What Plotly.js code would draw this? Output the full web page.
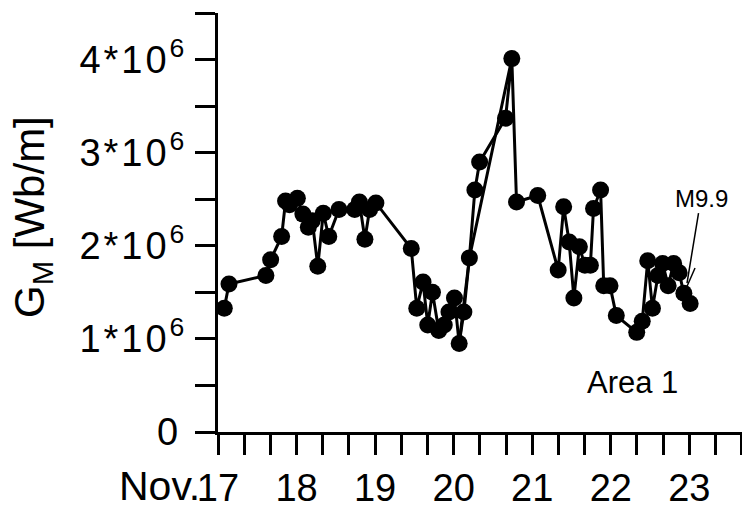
<!DOCTYPE html>
<html>
<head>
<meta charset="utf-8">
<script src="https://cdn.plot.ly/plotly-3.0.1.min.js"></script>
<style>
  html, body { margin: 0; padding: 0; background: #fff; }
  #chart { width: 742px; height: 508px; }
  /* the y labels are set a little wider, like the original typeface */
  #chart .ytick text { letter-spacing: 3px; }
</style>
</head>
<body>
<div id="chart"></div>
<script>
// Time in days of November (fractional), Area 1
const day = [
  17.08, 17.14, 17.61, 17.67, 17.81, 17.86, 17.91, 18.01, 18.08, 18.15,
  18.20, 18.27, 18.34, 18.41, 18.54, 18.74, 18.80, 18.87, 18.93, 19.01,
  19.46, 19.53, 19.61, 19.67, 19.73, 19.81, 19.88, 19.94, 20.01, 20.07,
  20.13, 20.20, 20.27, 20.33, 20.66, 20.74, 20.80, 21.07, 21.33, 21.40,
  21.47, 21.53, 21.60, 21.67, 21.74, 21.78, 21.87, 21.91, 21.99, 22.07,
  22.33, 22.40, 22.47, 22.53, 22.60, 22.66, 22.73, 22.80, 22.87, 22.93,
  23.01
];

// G_M in Wb/m
const gm = [
  1.33e6, 1.59e6, 1.68e6, 1.85e6, 2.10e6, 2.48e6, 2.44e6, 2.51e6, 2.34e6, 2.20e6,
  2.27e6, 1.78e6, 2.35e6, 2.10e6, 2.39e6, 2.39e6, 2.47e6, 2.07e6, 2.39e6, 2.46e6,
  1.97e6, 1.33e6, 1.61e6, 1.15e6, 1.50e6, 1.09e6, 1.15e6, 1.29e6, 1.44e6, 0.95e6,
  1.29e6, 1.87e6, 2.60e6, 2.90e6, 3.37e6, 4.01e6, 2.47e6, 2.54e6, 1.74e6, 2.42e6,
  2.04e6, 1.44e6, 1.99e6, 1.79e6, 1.79e6, 2.40e6, 2.60e6, 1.57e6, 1.57e6, 1.25e6,
  1.07e6, 1.19e6, 1.84e6, 1.33e6, 1.68e6, 1.81e6, 1.57e6, 1.81e6, 1.71e6, 1.49e6,
  1.38e6
];

// coarser sampling across the Nov. 20 rise, drawn as a plain line
const dayCoarse = [20.07, 20.20, 20.74];
const gmCoarse = [0.95e6, 1.87e6, 4.01e6];

// Axis tick positions and labels
const xTickVals = [17, 18, 19, 20, 21, 22, 23];
const xTickText = ['17', '18', '19', '20', '21', '22', '23'];
const yTickVals = [0, 1e6, 2e6, 3e6, 4e6];
const yTickText = ['0\u200A', '1*10<sup>6</sup>', '2*10<sup>6</sup>', '3*10<sup>6</sup>', '4*10<sup>6</sup>'];

const FONT = 'Liberation Sans, Arial, Helvetica, sans-serif';

const coarse = {
  x: dayCoarse,
  y: gmCoarse,
  type: 'scatter',
  mode: 'lines',
  line: { color: '#000', width: 3 },
  cliponaxis: false,
  hoverinfo: 'skip'
};

const main = {
  x: day,
  y: gm,
  type: 'scatter',
  mode: 'lines+markers',
  line: { color: '#000', width: 3 },
  marker: { color: '#000', size: 17 },
  cliponaxis: false,
  hoverinfo: 'x+y'
};

const layout = {
  width: 742,
  height: 508,
  margin: { l: 218, r: 0, t: 13, b: 76 },
  paper_bgcolor: '#fff',
  plot_bgcolor: '#fff',
  showlegend: false,
  font: { family: FONT, color: '#000' },
  xaxis: {
    range: [17, 23.67],
    tickmode: 'array',
    tickvals: xTickVals,
    ticktext: xTickText,
    ticks: 'outside',
    ticklen: 20,
    tickwidth: 3,
    tickcolor: '#000',
    minor: { dtick: 1 / 3, tick0: 17, ticks: 'outside', ticklen: 20, tickwidth: 3, tickcolor: '#000', showgrid: false },
    showline: true,
    linewidth: 3,
    linecolor: '#000',
    showgrid: false,
    zeroline: false,
    tickfont: { size: 38, family: FONT, color: '#000' }
  },
  yaxis: {
    range: [0, 4.5e6],
    tickmode: 'array',
    tickvals: yTickVals,
    ticktext: yTickText,
    ticks: 'outside',
    ticklen: 20,
    tickwidth: 3,
    tickcolor: '#000',
    minor: { dtick: 5e5, tick0: 0, ticks: 'outside', ticklen: 20, tickwidth: 3, tickcolor: '#000', showgrid: false },
    showline: true,
    linewidth: 3,
    linecolor: '#000',
    showgrid: false,
    zeroline: false,
    tickfont: { size: 38, family: FONT, color: '#000' }
  },
  shapes: [
    // short barb at the tip of the M9.9 pointer
    { type: 'line', xref: 'x', yref: 'y', x0: 22.944, y0: 1.515e6, x1: 23.072, y1: 1.762e6,
      line: { color: '#000', width: 1.5 } }
  ],
  annotations: [
    {
      text: 'G<sub>M</sub> [Wb/m]', xref: 'paper', yref: 'paper',
      x: -0.355, y: 0.513, xanchor: 'center', yanchor: 'middle',
      textangle: -90, showarrow: false,
      font: { size: 42, family: FONT, color: '#000' }
    },
    {
      text: 'Nov.', xref: 'paper', yref: 'paper',
      x: -0.03, y: -0.13, xanchor: 'right', yanchor: 'middle',
      showarrow: false,
      font: { size: 41, family: FONT, color: '#000' }
    },
    {
      text: 'Area 1', xref: 'x', yref: 'y',
      x: 22.28, y: 0.537e6, xanchor: 'center', yanchor: 'middle',
      showarrow: false,
      font: { size: 31, family: FONT, color: '#000' }
    },
    {
      text: 'M9.9', xref: 'x', yref: 'y',
      x: 22.97, y: 1.60e6,
      ax: 14, ay: -85,
      showarrow: true, arrowhead: 0, arrowwidth: 1.5, arrowcolor: '#000',
      font: { size: 24, family: FONT, color: '#000' }
    }
  ]
};

Plotly.newPlot('chart', [coarse, main], layout, { displayModeBar: false, staticPlot: true });
</script>
</body>
</html>
